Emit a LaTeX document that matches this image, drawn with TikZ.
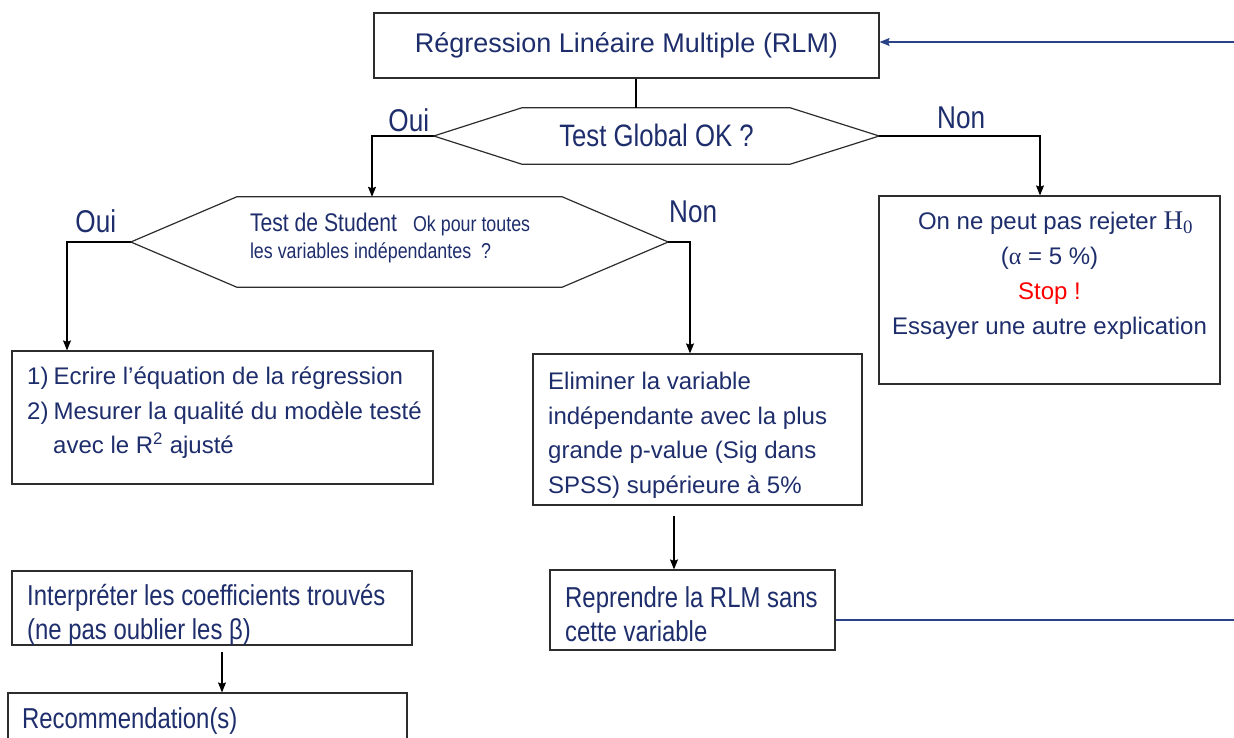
\documentclass[tikz,border=0pt]{standalone}
\usepackage{fontspec}
\setmainfont{Liberation Sans}
\newfontfamily\narrowfont{Liberation Sans}[FakeStretch=0.83]
\newfontfamily\seriffont{Liberation Serif}
\usetikzlibrary{arrows.meta}
\definecolor{navy}{RGB}{30,46,108}
\definecolor{loopblue}{RGB}{44,66,134}
\definecolor{boxline}{RGB}{45,45,45}
\begin{document}
\begin{tikzpicture}[x=1pt,y=-1pt,
  box/.style={draw=boxline,line width=1.2pt,fill=white,inner sep=0pt,rectangle},
  ghost/.style={inner sep=0pt,rectangle},
  hexline/.style={draw=boxline,line width=1.2pt,line join=miter,fill=white},
  txt/.style={text=navy,inner sep=0pt,font=\fontsize{24}{34.5}\selectfont,align=left},
  ntxt/.style={text=navy,inner sep=0pt,font=\narrowfont\fontsize{28.8}{34}\selectfont,align=left},
  lbl/.style={text=navy,inner sep=0pt,font=\narrowfont\fontsize{31.5}{34}\selectfont},
  conn/.style={draw=black,line width=1.1pt},
  arr/.style={conn,-{Stealth[length=10pt,width=8pt,inset=1.5pt]}},
  loopline/.style={draw=loopblue,line width=1.3pt}]
\useasboundingbox (0,0) rectangle (1234,738);
\clip (0,0) rectangle (1234,738);
\fill[white] (0,0) rectangle (1234,738);

% boxes
\node[box,minimum width=505pt,minimum height=65pt,text=navy,font=\fontsize{27}{30}\selectfont] (top) at (626.5,45.5) {Régression Linéaire Multiple (RLM)};
\node[ghost,minimum width=445pt,minimum height=56pt] (h1) at (656.5,136) {};
\node[ghost,minimum width=537pt,minimum height=90pt] (h2) at (399.5,242) {};
\node[box,minimum width=341pt,minimum height=188pt] (non) at (1049.5,290) {};
\node[box,minimum width=421pt,minimum height=133pt] (ecr) at (222.5,417.5) {};
\node[box,minimum width=329pt,minimum height=151pt] (elim) at (697.5,429.5) {};
\node[box,minimum width=400pt,minimum height=74pt] (interp) at (212,608) {};
\node[box,minimum width=285pt,minimum height=80pt] (rep) at (692.5,610) {};
\node[box,minimum width=399pt,minimum height=77pt] (recom) at (207.5,731.5) {};

% hexagons
\draw[hexline] (h1.west) -- ([xshift=88pt]h1.north west) -- ([xshift=-89pt]h1.north east) -- (h1.east) -- ([xshift=-89pt]h1.south east) -- ([xshift=88pt]h1.south west) -- cycle;
\draw[hexline] (h2.west) -- ([xshift=106pt]h2.north west) -- ([xshift=-106pt]h2.north east) -- (h2.east) -- ([xshift=-106pt]h2.south east) -- ([xshift=106pt]h2.south west) -- cycle;

% connectors
\draw[conn] ([xshift=9.5pt]top.south) -- ([xshift=9.5pt]top.south |- h1.north);
\draw[arr] (h1.west) -| ([xshift=-27.5pt]h2.north);
\draw[arr] (h1.east) -| ([xshift=-9.5pt]non.north);
\draw[arr] (h2.west) -| ([xshift=-155.5pt]ecr.north);
\draw[arr] (h2.east) -| ([xshift=-7.5pt]elim.north);
\draw[arr] ([xshift=-23.5pt,yshift=-10pt]elim.south) -- ([xshift=-18.5pt]rep.north);
\draw[arr] ([xshift=10pt,yshift=-6pt]interp.south) -- ([xshift=14.5pt]recom.north);
\coordinate (loopB) at (1236,620);
\coordinate (loopT) at (1236,42);
\draw[loopline] ([yshift=-10pt]rep.east) -- (loopB);
\draw[loopline,-{Stealth[length=10pt,width=8pt,inset=1.5pt]}] (loopT) -- (loopT -| top.east);

% texts
\node[text=navy,inner sep=0pt,font=\narrowfont\fontsize{31}{34}\selectfont] (h1t) at ([yshift=1pt]h1.center) {Test Global OK ?};
\node[text=navy,inner sep=0pt,align=left,anchor=west,font=\narrowfont\fontsize{21.5}{27}\selectfont] (h2t) at ([xshift=119pt,yshift=4pt]h2.west) {{\fontsize{25.5}{27}\selectfont Test de Student}\hspace{16pt}Ok pour toutes\\les variables indépendantes~ ?};
\node[txt,anchor=north,align=center,font=\fontsize{24}{35}\selectfont] (nont) at (1049.5,212) {\hspace*{12pt}On ne peut pas rejeter {\seriffont\fontsize{27}{35}\selectfont H\textsubscript{0}}\\({\seriffont α} = 5 \%)\\\textcolor{red}{Stop !}\\Essayer une autre explication};
\node[txt,anchor=north west] (ecrt) at (27,367) {1)\hspace{5pt}Ecrire l’équation de la régression\\2)\hspace{5pt}Mesurer la qualité du modèle testé\\\hspace*{26pt}avec le R\textsuperscript{2} ajusté};
\node[txt,anchor=north west] (elimt) at (548,372) {Eliminer la variable\\indépendante avec la plus\\grande p-value (Sig dans\\SPSS) supérieure à 5\%};
\node[ntxt,anchor=north west] (interpt) at (27,584) {Interpréter les coefficients trouvés\\(ne pas oublier les β)};
\node[ntxt,anchor=north west] (rept) at (565,586) {Reprendre la RLM sans\\cette variable};
\node[ntxt,anchor=north west] (recomt) at (22,707) {Recommendation(s)};

% labels
\node[lbl] (oui1) at ([xshift=-25pt,yshift=16pt]h1.west) {Oui};
\node[lbl] (non1) at ([xshift=82pt,yshift=18pt]h1.east) {Non};
\node[lbl] (oui2) at ([xshift=-35pt,yshift=21pt]h2.west) {Oui};
\node[lbl] (non2) at ([xshift=25pt,yshift=30pt]h2.east) {Non};
\end{tikzpicture}
\end{document}
